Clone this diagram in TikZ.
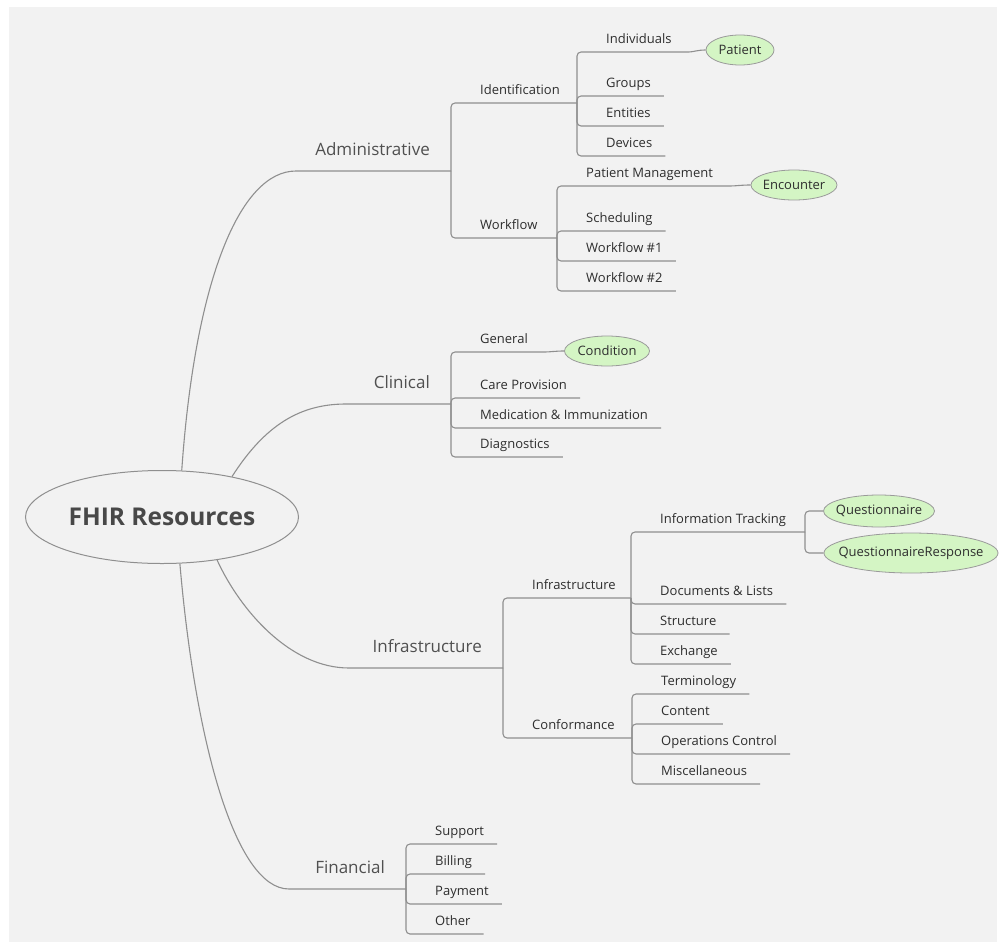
\documentclass[tikz,border=0pt]{standalone}
\usepackage{fontspec}
\setmainfont{Open Sans}
\usetikzlibrary{shapes.geometric}
\definecolor{canvas}{HTML}{F2F2F2}
\definecolor{wire}{HTML}{8F8F8F}
\definecolor{leafink}{HTML}{2E2E2E}
\definecolor{branchink}{HTML}{505050}
\definecolor{rootink}{HTML}{484848}
\definecolor{resfill}{HTML}{D4F5C4}
\definecolor{resline}{HTML}{9A9A9A}
\newcommand{\ctext}[1]{\makebox[0pt][c]{#1}}

\begin{document}
\begin{tikzpicture}[x=1pt,y=-1pt,
  wire/.style={draw=wire, line width=1.1pt, rounded corners=4pt},
  topic/.style={anchor=south west, inner xsep=13pt, inner ysep=6pt,
    font=\fontsize{13}{15}\selectfont, text=leafink,
    text height=0.72em, text depth=0.22em},
  branch/.style={anchor=base east, inner sep=0pt,
    font=\fontsize{17}{20}\selectfont, text=branchink},
  res/.style={ellipse, draw=resline, fill=resfill, line width=0.8pt,
    inner sep=0pt, font=\fontsize{13}{15}\selectfont, text=leafink},
  rootnode/.style={ellipse, draw=wire, fill=canvas, line width=1pt,
    inner sep=0pt, minimum width=273pt, minimum height=93pt,
    font=\bfseries\fontsize{24.5}{28}\selectfont, text=rootink}
]
% canvas
\fill[white] (0,0) rectangle (1001,945);
\fill[canvas] (9,7) rectangle (997,942);
\useasboundingbox (0,0) rectangle (1001,945);

% central topic
\node[rootnode] (root) at (162,517) {\ctext{FHIR Resources}};

% junctions of the main branches
\coordinate (adminC) at (300,171);  \coordinate (adminJ) at (451,171);
\coordinate (clinC)  at (350,404);  \coordinate (clinJ)  at (451,404);
\coordinate (infraC) at (353,668);  \coordinate (infraJ) at (503,668);
\coordinate (finC)   at (293,889);  \coordinate (finJ)   at (406,889);

\draw[wire] (root.67) .. controls (195,280) and (240,171) .. (adminC) -- (adminJ);
\draw[wire] (root.30) .. controls (265,425) and (300,404) .. (clinC) -- (clinJ);
\draw[wire] (root.-38) .. controls (240,610) and (290,668) .. (infraC) -- (infraJ);
\draw[wire] (root.-69) .. controls (195,740) and (235,889) .. (finC) -- (finJ);

\node[branch] (admin) at (430,155.5) {Administrative};
\node[branch] (clin)  at (430,388.5) {Clinical};
\node[branch] (infra) at (482,652.5) {Infrastructure};
\node[branch] (fin)   at (385,873.5) {Financial};

% ---------------- Administrative
\node[topic] (ident) at (467,103) {Identification};
\coordinate (identJ) at (577,103);
\draw[wire] (adminJ) |- (identJ);
\node[topic] (workflow) at (467,238) {Workflow};
\coordinate (wfJ) at (557,238);
\draw[wire] (adminJ) |- (wfJ);

\node[topic] (indiv) at (593,52) {Individuals};
\node[res, minimum width=68pt, minimum height=30pt] (patient) at (740,50) {\ctext{Patient}};
\draw[wire] (identJ) |- (indiv.south east) to[out=0,in=180] (patient.west);
\node[topic] (groups) at (593,96) {Groups};
\draw[wire] (identJ) |- (groups.south east);
\node[topic] (entities) at (593,126) {Entities};
\draw[wire] (identJ) |- (entities.south east);
\node[topic] (devices) at (593,156) {Devices};
\draw[wire] (identJ) |- (devices.south east);

\node[topic] (patmgmt) at (573,186) {Patient Management};
\node[res, minimum width=86pt, minimum height=30pt] (encounter) at (794,185) {\ctext{Encounter}};
\draw[wire] (wfJ) |- (patmgmt.south east) to[out=0,in=180] (encounter.west);
\node[topic] (sched) at (573,231) {Scheduling};
\draw[wire] (wfJ) |- (sched.south east);
\node[topic] (wfone) at (573,261) {Workflow \#1};
\draw[wire] (wfJ) |- (wfone.south east);
\node[topic] (wftwo) at (573,291) {Workflow \#2};
\draw[wire] (wfJ) |- (wftwo.south east);

% ---------------- Clinical
\node[topic] (general) at (467,352) {General};
\node[res, minimum width=85pt, minimum height=30pt] (condition) at (607,351) {\ctext{Condition}};
\draw[wire] (clinJ) |- (general.south east) to[out=0,in=180] (condition.west);
\node[topic] (careprov) at (467,398) {Care Provision};
\draw[wire] (clinJ) |- (careprov.south east);
\node[topic] (medimm) at (467,428) {Medication \& Immunization};
\draw[wire] (clinJ) |- (medimm.south east);
\node[topic] (diag) at (467,457) {Diagnostics};
\draw[wire] (clinJ) |- (diag.south east);

% ---------------- Infrastructure
\node[topic] (infrasub) at (519,598) {Infrastructure};
\coordinate (infrasubJ) at (631,598);
\draw[wire] (infraJ) |- (infrasubJ);
\node[topic] (conform) at (519,738) {Conformance};
\coordinate (confJ) at (632,738);
\draw[wire] (infraJ) |- (confJ);

\node[topic] (infotrack) at (647,532) {Information Tracking};
\coordinate (infoJ) at (805,532);
\draw[wire] (infrasubJ) |- (infoJ);
\node[res, minimum width=111pt, minimum height=32pt] (quest) at (879,511) {\ctext{Questionnaire}};
\node[res, minimum width=174pt, minimum height=40pt] (qresp) at (911,553) {\ctext{QuestionnaireResponse}};
\draw[wire] (infoJ) |- (quest.west);
\draw[wire] (infoJ) |- (qresp.west);
\node[topic] (docs) at (647,604) {Documents \& Lists};
\draw[wire] (infrasubJ) |- (docs.south east);
\node[topic] (structure) at (647,634) {Structure};
\draw[wire] (infrasubJ) |- (structure.south east);
\node[topic] (exchange) at (647,664) {Exchange};
\draw[wire] (infrasubJ) |- (exchange.south east);

\node[topic] (term) at (648,694) {Terminology};
\draw[wire] (confJ) |- (term.south east);
\node[topic] (content) at (648,724) {Content};
\draw[wire] (confJ) |- (content.south east);
\node[topic] (opsctl) at (648,754) {Operations Control};
\draw[wire] (confJ) |- (opsctl.south east);
\node[topic] (misc) at (648,784) {Miscellaneous};
\draw[wire] (confJ) |- (misc.south east);

% ---------------- Financial
\node[topic] (support) at (422,844) {Support};
\draw[wire] (finJ) |- (support.south east);
\node[topic] (billing) at (422,874) {Billing};
\draw[wire] (finJ) |- (billing.south east);
\node[topic] (payment) at (422,904) {Payment};
\draw[wire] (finJ) |- (payment.south east);
\node[topic] (other) at (422,934) {Other};
\draw[wire] (finJ) |- (other.south east);
\end{tikzpicture}
\end{document}
